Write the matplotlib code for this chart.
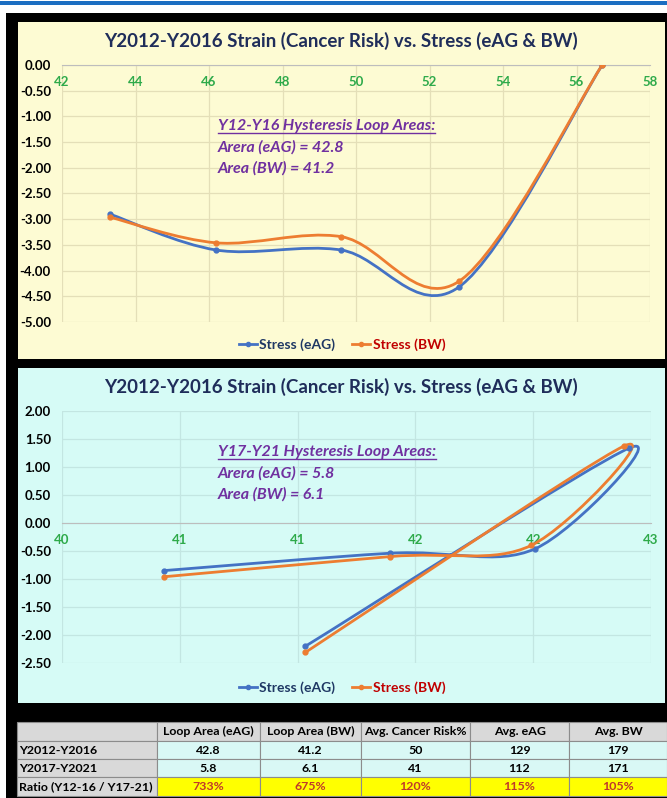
import matplotlib
matplotlib.use("Agg")
import matplotlib.pyplot as plt
from matplotlib.patches import Rectangle, PathPatch
from matplotlib.path import Path
from matplotlib.lines import Line2D
from matplotlib.ticker import FixedLocator, FuncFormatter
import numpy as np

plt.rcParams["font.family"] = ["Lato", "DejaVu Sans"]
plt.rcParams["axes.unicode_minus"] = False

# ---- data ----
title = "Y2012-Y2016 Strain (Cancer Risk) vs. Stress (eAG & BW)"

top_x_eag = [43.3, 46.2, 49.6, 52.8, 56.7]
top_y_eag = [-2.90, -3.60, -3.60, -4.32, 0.00]
top_x_bw = [43.3, 46.2, 49.6, 52.8, 56.7]
top_y_bw = [-2.96, -3.46, -3.34, -4.21, 0.00]

bot_x_eag = [40.52, 41.67, 42.41, 42.89, 41.24]
bot_y_eag = [-0.85, -0.54, -0.46, 1.34, -2.20]
bot_x_bw = [40.52, 41.67, 42.39, 42.86, 41.24]
bot_y_bw = [-0.96, -0.60, -0.40, 1.37, -2.31]

top_note = ["Y12-Y16 Hysteresis Loop Areas:", "Arera (eAG) = 42.8", "Area (BW) = 41.2"]
bot_note = ["Y17-Y21 Hysteresis Loop Areas:", "Arera (eAG) = 5.8", "Area (BW) = 6.1"]

table_cols = ["", "Loop Area (eAG)", "Loop Area (BW)", "Avg. Cancer Risk%", "Avg. eAG", "Avg. BW"]
table_rows = ["Y2012-Y2016", "Y2017-Y2021", "Ratio (Y12-16 / Y17-21)"]
table_vals = [["42.8", "41.2", "50", "129", "179"],
              ["5.8", "6.1", "41", "112", "171"],
              ["733%", "675%", "120%", "115%", "105%"]]

BLUE = "#4472c4"
ORANGE = "#ed7d31"
W, H = 667, 798


def box(x0, y0, x1, y1):
    # pixel box (top-left origin) -> figure fraction [l, b, w, h]
    return [x0 / W, 1 - y1 / H, (x1 - x0) / W, (y1 - y0) / H]


def rect(x0, y0, x1, y1, color):
    l, b, w, h = box(x0, y0, x1, y1)
    fig.add_artist(Rectangle((l, b), w, h, transform=fig.transFigure, color=color, lw=0, zorder=0))


def smooth_path(xs, ys):
    # Excel-style smoothed line: Catmull-Rom as cubic Bezier segments
    p = np.column_stack([xs, ys])
    n = len(p)
    verts = [p[0]]
    codes = [Path.MOVETO]
    for i in range(n - 1):
        prev = p[i - 1] if i > 0 else p[i]
        nxt = p[i + 2] if i + 2 < n else p[i + 1]
        c1 = p[i] + (p[i + 1] - prev) / 6
        c2 = p[i + 1] - (nxt - p[i]) / 6
        verts += [c1, c2, p[i + 1]]
        codes += [Path.CURVE4] * 3
    return Path(verts, codes)


def draw_series(ax, xs, ys, color):
    ax.add_patch(PathPatch(smooth_path(xs, ys), fill=False, edgecolor=color, lw=2, zorder=3))
    ax.plot(xs, ys, linestyle="none", marker="o", ms=3.5, color=color, zorder=4)


def setup_axes(ax, bg, grid_c, xlim, ylim, xticks, yticks, xfmt):
    ax.set_facecolor(bg)
    ax.set_xlim(*xlim)
    ax.set_ylim(*ylim)
    ax.xaxis.set_major_locator(FixedLocator(xticks))
    ax.yaxis.set_major_locator(FixedLocator(yticks))
    ax.xaxis.set_major_formatter(FuncFormatter(lambda v, p: xfmt % v))
    ax.yaxis.set_major_formatter(FuncFormatter(lambda v, p: "%.2f" % v))
    ax.grid(True, color=grid_c, lw=0.9)
    ax.set_axisbelow(True)
    for s in ["top", "right", "left"]:
        ax.spines[s].set_visible(False)
    ax.spines["bottom"].set_position(("data", 0))
    ax.spines["bottom"].set_color("#bdbdbd")
    ax.tick_params(axis="x", length=0, pad=8, labelcolor="#2eaa4a", labelsize=9.5)
    ax.tick_params(axis="y", length=0, pad=8, labelsize=9.5)
    for t in ax.get_xticklabels() + ax.get_yticklabels():
        t.set_fontweight("bold")


fig = plt.figure(figsize=(W / 100, H / 100), dpi=100)
fig.patch.set_facecolor("white")

# frame and panels
rect(0, 1, W, 4.5, "#1b6ec2")
rect(6, 13, W, H, "black")
rect(18, 22, 665, 359, "#fdfbd3")
rect(18, 368, 665, 703, "#d6fbf6")

# ---- top chart ----
ax1 = fig.add_axes(box(62, 65, 650, 322))
setup_axes(ax1, "#fdfbd3", "#e4dfb8", (42, 58), (-5, 0),
           np.arange(42, 59, 2), np.arange(-5, 0.01, 0.5), "%d")
draw_series(ax1, top_x_eag, top_y_eag, BLUE)
draw_series(ax1, top_x_bw, top_y_bw, ORANGE)

# ---- bottom chart ----
ax2 = fig.add_axes(box(62, 411, 651, 663))
setup_axes(ax2, "#d6fbf6", "#c3e6e2", (40, 43), (-2.5, 2),
           np.linspace(40, 43, 6), np.arange(-2.5, 2.01, 0.5), "%.0f")
draw_series(ax2, bot_x_eag, bot_y_eag, BLUE)
draw_series(ax2, bot_x_bw, bot_y_bw, ORANGE)

# titles
for ty in [41, 387]:
    fig.text(341 / W, 1 - ty / H, title, ha="center", va="center",
             fontsize=13.5, fontweight="bold", color="#1f2d5a")

# legends
handles = [Line2D([], [], color=BLUE, lw=2, marker="o", ms=3),
           Line2D([], [], color=ORANGE, lw=2, marker="o", ms=3)]
for ly in [345, 688]:
    leg = fig.legend(handles, ["Stress (eAG)", "Stress (BW)"], loc="center",
                     bbox_to_anchor=(342 / W, 1 - ly / H), ncol=2, frameon=False,
                     handlelength=1.3, handletextpad=0.2, columnspacing=1.2,
                     prop={"size": 10, "weight": "bold"})
    leg.get_texts()[0].set_color("#1f3864")
    leg.get_texts()[1].set_color("#c00000")

# notes
notes = []
for lines, y0 in [(top_note, 126), (bot_note, 452)]:
    for k, line in enumerate(lines):
        t = fig.text(218 / W, 1 - (y0 + k * 21) / H, line, ha="left", va="center",
                     fontsize=11.5, fontweight="bold", fontstyle="italic", color="#7030a0")
        if k == 0:
            notes.append(t)

fig.canvas.draw()
for t in notes:
    bb = t.get_window_extent()
    fig.add_artist(Line2D([bb.x0 / W, bb.x1 / W], [(bb.y0 + 0.5) / H] * 2,
                          transform=fig.transFigure, color="#7030a0", lw=1))

# ---- table ----
col_px = [17, 157, 260, 361, 470, 569, 667]
row_px = [722, 741, 759, 777, 796]
for r in range(4):
    for c in range(6):
        x0, x1 = col_px[c], col_px[c + 1]
        y0, y1 = row_px[r], row_px[r + 1]
        if r == 0 or c == 0:
            fc = "#d9d9d9"
        elif r == 3:
            fc = "#ffff00"
        else:
            fc = "#d9f8f5"
        l, b, w, h = box(x0, y0, x1, y1)
        fig.add_artist(Rectangle((l, b), w, h, transform=fig.transFigure,
                                 facecolor=fc, edgecolor="#8c8c8c", lw=0.8))
        if r == 0:
            txt, color = table_cols[c], "black"
        elif c == 0:
            txt, color = table_rows[r - 1], "black"
        else:
            txt = table_vals[r - 1][c - 1]
            color = "#c0392b" if r == 3 else "black"
        if c == 0:
            fig.text((x0 + 2) / W, 1 - (y0 + y1) / 2 / H, txt, ha="left", va="center",
                     fontsize=8.9, fontweight="bold", color=color)
        else:
            fig.text((x0 + x1) / 2 / W, 1 - (y0 + y1) / 2 / H, txt, ha="center", va="center",
                     fontsize=8.9, fontweight="bold", color=color)

fig.savefig("out.png", dpi=100)
